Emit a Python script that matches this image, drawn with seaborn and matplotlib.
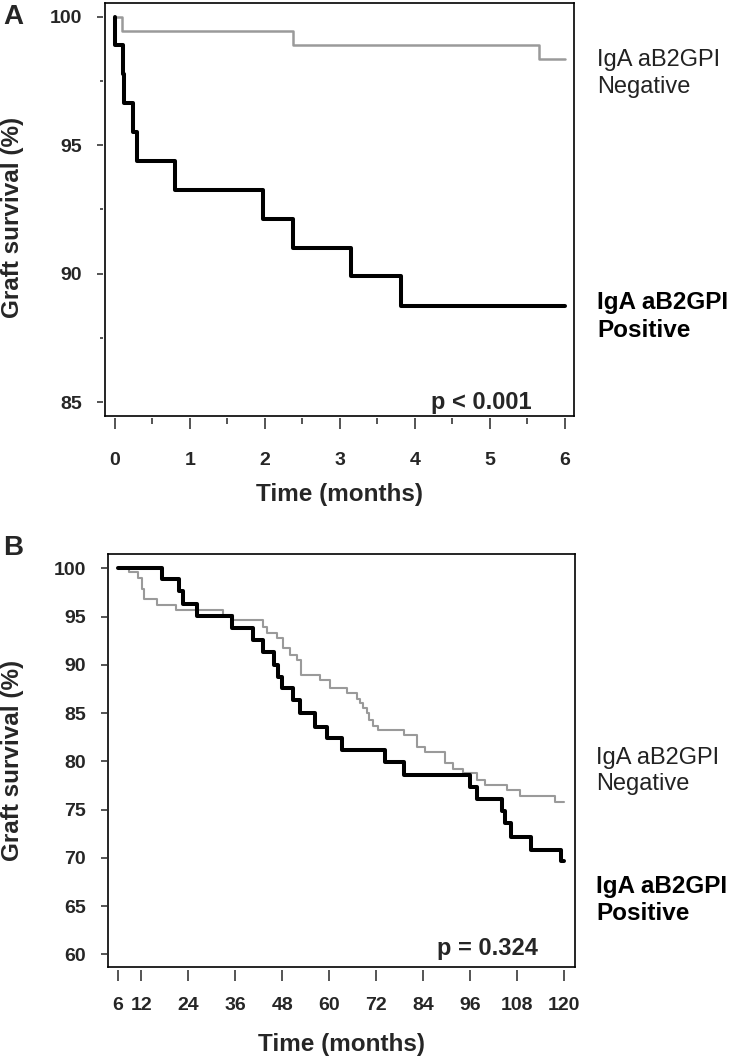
import matplotlib
matplotlib.use("Agg")
import numpy as np
import pandas as pd
import matplotlib.pyplot as plt
import matplotlib.transforms as mtrans
import seaborn as sns

# Panel A - graft survival, first 6 months
a_neg_time = [0, 0.10, 2.38, 5.65, 6.0]
a_neg_surv = [100, 99.44, 98.88, 98.35, 98.35]
a_pos_time = [0, 0.01, 0.11, 0.13, 0.25, 0.30, 0.80, 1.98, 2.38, 3.15, 3.82, 6.0]
a_pos_surv = [100, 98.88, 97.75, 96.63, 95.51, 94.38, 93.26, 92.13, 91.01, 89.89, 88.76, 88.76]

# Panel B - graft survival from 6 to 120 months
b_neg_time = [6, 9.0, 11.3, 12.1, 12.7, 16.0, 20.9, 33.0, 35.5, 43.0, 44.1, 46.6, 48.3,
              50.0, 51.7, 52.7, 57.7, 60.2, 64.5, 67.0, 67.9, 68.7, 69.6, 70.3, 71.1,
              72.6, 79.0, 82.4, 84.5, 89.6, 91.7, 94.3, 97.7, 99.8, 105.4, 108.8, 117.7, 120]
b_neg_surv = [100, 99.65, 98.96, 97.9, 96.8, 96.2, 95.7, 95.2, 94.6, 93.95, 93.26, 92.75, 91.7,
              91.0, 90.5, 88.95, 88.4, 87.6, 87.05, 86.5, 86.0, 85.5, 84.97, 84.3, 83.66,
              83.2, 82.7, 81.5, 81.0, 79.8, 79.2, 78.76, 78.1, 77.55, 77.0, 76.4, 75.8, 75.8]
b_pos_time = [6, 17.2, 21.7, 22.8, 26.3, 35.1, 40.6, 43.0, 45.9, 47.0, 47.9, 50.9, 52.6,
              56.4, 59.4, 63.4, 74.3, 79.1, 96.0, 97.8, 104.1, 104.8, 106.5, 111.5, 119.3, 120]
b_pos_surv = [100, 98.86, 97.6, 96.3, 95.06, 93.8, 92.57, 91.3, 90.0, 88.77, 87.56, 86.35, 84.97,
              83.6, 82.4, 81.2, 79.96, 78.6, 77.3, 76.06, 74.8, 73.6, 72.2, 70.85, 69.65, 69.65]

a_xticks = [0, 1, 2, 3, 4, 5, 6]
a_xminor = [0.5, 1.5, 2.5, 3.5, 4.5, 5.5]
a_yticks = [85, 90, 95, 100]
a_yminor = [87.5, 92.5, 97.5]
b_xticks = [6, 12, 24, 36, 48, 60, 72, 84, 96, 108, 120]
b_yticks = [60, 65, 70, 75, 80, 85, 90, 95, 100]

grey = "#9a9a9a"

sns.set_style("white")
plt.rcParams['font.family'] = ['Liberation Sans', 'DejaVu Sans']

W, H = 733, 1061
fig = plt.figure(figsize=(W / 100, H / 100), dpi=100)


def px_axes(l, t, r, b):
    return fig.add_axes([l / W, 1 - b / H, (r - l) / W, (b - t) / H])


def style_panel(ax, xticks, yticks, xminor, yminor, xpad, xlab_y, ylab_x, ylab_y):
    for s in ax.spines.values():
        s.set_visible(True)
        s.set_color("black")
        s.set_linewidth(1.2)
    ax.tick_params(left=False, bottom=False, labelleft=False, labelbottom=False)
    pos = ax.get_position()
    h = pos.height * H
    w = pos.width * W
    sx = ax.secondary_xaxis(-2.5 / h)
    sx.set_xticks(xticks, labels=[str(v) for v in xticks], fontweight="bold", fontsize=14)
    if xminor:
        sx.set_xticks(xminor, minor=True)
    sx.spines["bottom"].set_visible(False)
    sx.tick_params(which="major", direction="out", length=8, width=1.1, pad=xpad)
    sx.tick_params(which="minor", direction="out", length=4.5, width=1.1)
    sy = ax.secondary_yaxis(-1.5 / w)
    sy.set_yticks(yticks, labels=[str(v) for v in yticks], fontweight="bold", fontsize=14)
    if yminor:
        sy.set_yticks(yminor, minor=True)
    sy.spines["left"].set_visible(False)
    sy.tick_params(which="major", direction="out", length=4.5, width=1.1, pad=10.5)
    sy.tick_params(which="minor", direction="out", length=2.5, width=1.1)
    ax.set_xlabel("Time (months)", fontsize=17.5, fontweight="bold")
    ax.xaxis.set_label_coords(0.5, xlab_y)
    ax.set_ylabel("Graft survival (%)", fontsize=17.5, fontweight="bold")
    ax.yaxis.label.set_va("center")
    ax.yaxis.set_label_coords(ylab_x, ylab_y)


def km(ax, t, s, color, lw):
    df = pd.DataFrame({"time": t, "surv": s})
    sns.lineplot(data=df, x="time", y="surv", ax=ax, color=color, linewidth=lw,
                 drawstyle="steps-post", estimator=None, sort=False)


# ---------- Panel A ----------
axA = px_axes(104.5, 3.3, 574, 415.5)
km(axA, a_neg_time, a_neg_surv, grey, 1.8)
km(axA, a_pos_time, a_pos_surv, "black", 2.9)
axA.set_xlim(-0.135, 6.12)
axA.set_ylim(84.48, 100.52)
style_panel(axA, a_xticks, a_yticks, a_xminor, a_yminor, 16.5,
            -(483 - 415.5) / 412.2, -0.196, 0.48)
trA = mtrans.blended_transform_factory(axA.transAxes, axA.transData)
axA.text(1.049, 97.79, "IgA aB2GPI\nNegative", transform=trA, ha="left", va="center",
         fontsize=17, color="#222222", linespacing=1.25)
axA.text(1.049, 88.33, "IgA aB2GPI\nPositive", transform=trA, ha="left", va="center",
         fontsize=17.5, fontweight="bold", color="black", linespacing=1.25)
axA.text(5.56, 84.73, "p < 0.001", ha="right", va="baseline", fontsize=17, fontweight="bold")

# ---------- Panel B ----------
axB = px_axes(108.3, 554, 575, 967.3)
km(axB, b_neg_time, b_neg_surv, grey, 1.5)
km(axB, b_pos_time, b_pos_surv, "black", 2.9)
axB.set_xlim(3.6, 122.8)
axB.set_ylim(58.65, 101.48)
style_panel(axB, b_xticks, b_yticks, None, None, 11.5,
            -(1033 - 967.3) / 413.3, -0.2053, 0.5)
trB = mtrans.blended_transform_factory(axB.transAxes, axB.transData)
axB.text(1.045, 79.0, "IgA aB2GPI\nNegative", transform=trB, ha="left", va="center",
         fontsize=17, color="#222222", linespacing=1.25)
axB.text(1.045, 65.6, "IgA aB2GPI\nPositive", transform=trB, ha="left", va="center",
         fontsize=17.5, fontweight="bold", color="black", linespacing=1.25)
axB.text(113.4, 59.93, "p = 0.324", ha="right", va="baseline", fontsize=17, fontweight="bold")

# panel letters
fig.text(13.4 / W, 1 - 16.7 / H, "A", fontsize=20, fontweight="bold", ha="center", va="center")
fig.text(13 / W, 1 - 548 / H, "B", fontsize=20, fontweight="bold", ha="center", va="center")

fig.savefig("out.png", dpi=100, facecolor="white")
